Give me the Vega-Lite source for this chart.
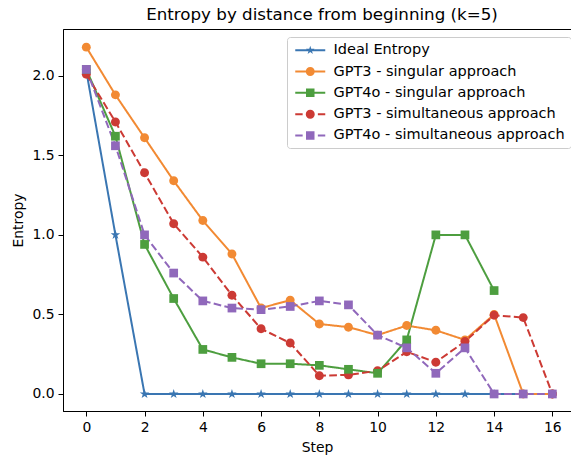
{
  "$schema": "https://vega.github.io/schema/vega-lite/v6.json",
  "width": 508,
  "height": 382,
  "autosize": {"type": "none"},
  "padding": {"left": 63, "top": 29, "right": 0, "bottom": 48},
  "background": "white",
  "title": {"text": "Entropy by distance from beginning (k=5)", "font": "DejaVu Sans", "fontSize": 16.7, "fontWeight": "normal", "color": "black", "offset": 5, "dx": 5},
  "config": {
    "view": {"stroke": "black", "strokeWidth": 1},
    "axis": {"labelFont": "DejaVu Sans", "labelFontSize": 13.9, "labelColor": "black", "titleFont": "DejaVu Sans", "titleFontSize": 13.9, "titleFontWeight": "normal", "titleColor": "black", "tickColor": "black", "tickSize": 5, "tickWidth": 1, "domainColor": "black", "domainWidth": 1, "labelPadding": 4, "grid": false}
  },
  "data": {"values": [
    {"series": "Ideal Entropy", "step": 0, "entropy": 2.03},
    {"series": "Ideal Entropy", "step": 1, "entropy": 1.0},
    {"series": "Ideal Entropy", "step": 2, "entropy": 0},
    {"series": "Ideal Entropy", "step": 3, "entropy": 0},
    {"series": "Ideal Entropy", "step": 4, "entropy": 0},
    {"series": "Ideal Entropy", "step": 5, "entropy": 0},
    {"series": "Ideal Entropy", "step": 6, "entropy": 0},
    {"series": "Ideal Entropy", "step": 7, "entropy": 0},
    {"series": "Ideal Entropy", "step": 8, "entropy": 0},
    {"series": "Ideal Entropy", "step": 9, "entropy": 0},
    {"series": "Ideal Entropy", "step": 10, "entropy": 0},
    {"series": "Ideal Entropy", "step": 11, "entropy": 0},
    {"series": "Ideal Entropy", "step": 12, "entropy": 0},
    {"series": "Ideal Entropy", "step": 13, "entropy": 0},
    {"series": "Ideal Entropy", "step": 14, "entropy": 0},
    {"series": "Ideal Entropy", "step": 15, "entropy": 0},
    {"series": "Ideal Entropy", "step": 16, "entropy": 0},
    {"series": "GPT3 - singular approach", "step": 0, "entropy": 2.18},
    {"series": "GPT3 - singular approach", "step": 1, "entropy": 1.88},
    {"series": "GPT3 - singular approach", "step": 2, "entropy": 1.61},
    {"series": "GPT3 - singular approach", "step": 3, "entropy": 1.34},
    {"series": "GPT3 - singular approach", "step": 4, "entropy": 1.09},
    {"series": "GPT3 - singular approach", "step": 5, "entropy": 0.88},
    {"series": "GPT3 - singular approach", "step": 6, "entropy": 0.54},
    {"series": "GPT3 - singular approach", "step": 7, "entropy": 0.59},
    {"series": "GPT3 - singular approach", "step": 8, "entropy": 0.44},
    {"series": "GPT3 - singular approach", "step": 9, "entropy": 0.42},
    {"series": "GPT3 - singular approach", "step": 10, "entropy": 0.37},
    {"series": "GPT3 - singular approach", "step": 11, "entropy": 0.43},
    {"series": "GPT3 - singular approach", "step": 12, "entropy": 0.40},
    {"series": "GPT3 - singular approach", "step": 13, "entropy": 0.34},
    {"series": "GPT3 - singular approach", "step": 14, "entropy": 0.50},
    {"series": "GPT3 - singular approach", "step": 15, "entropy": 0},
    {"series": "GPT3 - singular approach", "step": 16, "entropy": 0},
    {"series": "GPT4o - singular approach", "step": 0, "entropy": 2.04},
    {"series": "GPT4o - singular approach", "step": 1, "entropy": 1.62},
    {"series": "GPT4o - singular approach", "step": 2, "entropy": 0.94},
    {"series": "GPT4o - singular approach", "step": 3, "entropy": 0.60},
    {"series": "GPT4o - singular approach", "step": 4, "entropy": 0.28},
    {"series": "GPT4o - singular approach", "step": 5, "entropy": 0.23},
    {"series": "GPT4o - singular approach", "step": 6, "entropy": 0.19},
    {"series": "GPT4o - singular approach", "step": 7, "entropy": 0.19},
    {"series": "GPT4o - singular approach", "step": 8, "entropy": 0.18},
    {"series": "GPT4o - singular approach", "step": 9, "entropy": 0.155},
    {"series": "GPT4o - singular approach", "step": 10, "entropy": 0.13},
    {"series": "GPT4o - singular approach", "step": 11, "entropy": 0.34},
    {"series": "GPT4o - singular approach", "step": 12, "entropy": 1.0},
    {"series": "GPT4o - singular approach", "step": 13, "entropy": 1.0},
    {"series": "GPT4o - singular approach", "step": 14, "entropy": 0.65},
    {"series": "GPT3 - simultaneous approach", "step": 0, "entropy": 2.01},
    {"series": "GPT3 - simultaneous approach", "step": 1, "entropy": 1.71},
    {"series": "GPT3 - simultaneous approach", "step": 2, "entropy": 1.39},
    {"series": "GPT3 - simultaneous approach", "step": 3, "entropy": 1.07},
    {"series": "GPT3 - simultaneous approach", "step": 4, "entropy": 0.86},
    {"series": "GPT3 - simultaneous approach", "step": 5, "entropy": 0.62},
    {"series": "GPT3 - simultaneous approach", "step": 6, "entropy": 0.41},
    {"series": "GPT3 - simultaneous approach", "step": 7, "entropy": 0.32},
    {"series": "GPT3 - simultaneous approach", "step": 8, "entropy": 0.115},
    {"series": "GPT3 - simultaneous approach", "step": 9, "entropy": 0.12},
    {"series": "GPT3 - simultaneous approach", "step": 10, "entropy": 0.146},
    {"series": "GPT3 - simultaneous approach", "step": 11, "entropy": 0.265},
    {"series": "GPT3 - simultaneous approach", "step": 12, "entropy": 0.20},
    {"series": "GPT3 - simultaneous approach", "step": 13, "entropy": 0.33},
    {"series": "GPT3 - simultaneous approach", "step": 14, "entropy": 0.495},
    {"series": "GPT3 - simultaneous approach", "step": 15, "entropy": 0.48},
    {"series": "GPT3 - simultaneous approach", "step": 16, "entropy": 0},
    {"series": "GPT4o - simultaneous approach", "step": 0, "entropy": 2.04},
    {"series": "GPT4o - simultaneous approach", "step": 1, "entropy": 1.56},
    {"series": "GPT4o - simultaneous approach", "step": 2, "entropy": 1.0},
    {"series": "GPT4o - simultaneous approach", "step": 3, "entropy": 0.76},
    {"series": "GPT4o - simultaneous approach", "step": 4, "entropy": 0.585},
    {"series": "GPT4o - simultaneous approach", "step": 5, "entropy": 0.54},
    {"series": "GPT4o - simultaneous approach", "step": 6, "entropy": 0.53},
    {"series": "GPT4o - simultaneous approach", "step": 7, "entropy": 0.55},
    {"series": "GPT4o - simultaneous approach", "step": 8, "entropy": 0.585},
    {"series": "GPT4o - simultaneous approach", "step": 9, "entropy": 0.56},
    {"series": "GPT4o - simultaneous approach", "step": 10, "entropy": 0.37},
    {"series": "GPT4o - simultaneous approach", "step": 11, "entropy": 0.29},
    {"series": "GPT4o - simultaneous approach", "step": 12, "entropy": 0.13},
    {"series": "GPT4o - simultaneous approach", "step": 13, "entropy": 0.29},
    {"series": "GPT4o - simultaneous approach", "step": 14, "entropy": 0},
    {"series": "GPT4o - simultaneous approach", "step": 15, "entropy": 0},
    {"series": "GPT4o - simultaneous approach", "step": 16, "entropy": 0}
  ]},
  "encoding": {
    "x": {"field": "step", "type": "quantitative", "scale": {"domain": [-0.8, 16.64], "nice": false, "zero": false}, "axis": {"values": [0, 2, 4, 6, 8, 10, 12, 14, 16], "format": "d", "title": "Step", "titlePadding": 7}},
    "y": {"field": "entropy", "type": "quantitative", "scale": {"domain": [-0.107, 2.294], "nice": false, "zero": false}, "axis": {"values": [0, 0.5, 1, 1.5, 2], "format": ".1f", "title": "Entropy", "titlePadding": 6}},
    "color": {"field": "series", "type": "nominal", "scale": {"domain": ["Ideal Entropy", "GPT3 - singular approach", "GPT4o - singular approach", "GPT3 - simultaneous approach", "GPT4o - simultaneous approach"], "range": ["#3a76b2", "#f28a33", "#4d9e3f", "#cc3a34", "#9068bb"]},
      "legend": {
          "title": null, "orient": "none", "legendX": 224, "legendY": 8,
          "symbolSize": 100, "symbolStrokeWidth": 0, "symbolOffset": 10, "labelOffset": 16, "labelLimit": 400,
          "labelFont": "DejaVu Sans", "labelFontSize": 14.5, "labelColor": "black",
          "padding": 6, "rowPadding": 6.3, "strokeColor": "#cccccc", "fillColor": "rgba(255,255,255,0.8)", "cornerRadius": 3,
          "encode": {"symbols": {"update": {
            "fill": {"signal": "scale('color', datum.value)"},
            "fillOpacity": {"value": 1},
            "opacity": {"value": 1},
            "strokeWidth": {"value": 0},
            "shape": {"signal": "datum.value === 'Ideal Entropy' ? 'M-3,-0.2H3V0.2H-3Z M0,-0.9L0.2,-0.278L0.856,-0.278L0.327,0.106L0.529,0.728L0,0.344L-0.529,0.728L-0.327,0.106L-0.856,-0.278L-0.2,-0.278Z' : datum.value === 'GPT3 - singular approach' ? 'M-3,-0.2H3V0.2H-3Z M0.9,0A0.9,0.9 0 1,1 -0.9,0A0.9,0.9 0 1,1 0.9,0Z' : datum.value === 'GPT4o - singular approach' ? 'M-3,-0.2H3V0.2H-3Z M-0.85,-0.85H0.85V0.85H-0.85Z' : datum.value === 'GPT3 - simultaneous approach' ? 'M-3,-0.2H-1.52V0.2H-3Z M1.52,-0.2H3V0.2H1.52Z M0.9,0A0.9,0.9 0 1,1 -0.9,0A0.9,0.9 0 1,1 0.9,0Z' : 'M-3,-0.2H-1.52V0.2H-3Z M1.52,-0.2H3V0.2H1.52Z M-0.85,-0.85H0.85V0.85H-0.85Z'"}}}}
      }
    }
  },
  "layer": [
    {
      "mark": {"type": "line", "strokeWidth": 2},
      "encoding": {
        "strokeDash": {"field": "series", "type": "nominal", "scale": {"domain": ["Ideal Entropy", "GPT3 - singular approach", "GPT4o - singular approach", "GPT3 - simultaneous approach", "GPT4o - simultaneous approach"], "range": [[1, 0], [1, 0], [1, 0], [7.7, 3.3], [7.7, 3.3]]}, "legend": null}
      }
    },
    {
      "transform": [{"filter": "datum.series === 'Ideal Entropy'"}],
      "mark": {"type": "point", "filled": true, "opacity": 1, "size": 100, "strokeWidth": 0, "shape": "M0,-1L0.225,-0.309L0.951,-0.309L0.363,0.118L0.588,0.809L0,0.382L-0.588,0.809L-0.363,0.118L-0.951,-0.309L-0.225,-0.309Z"}
    },
    {
      "transform": [{"filter": "indexof(datum.series, 'GPT3') === 0"}],
      "mark": {"type": "point", "filled": true, "opacity": 1, "size": 80, "strokeWidth": 0, "shape": "M1,0A1,1 0 1,1 -1,0A1,1 0 1,1 1,0Z"}
    },
    {
      "transform": [{"filter": "indexof(datum.series, 'GPT4o') === 0"}],
      "mark": {"type": "point", "filled": true, "opacity": 1, "size": 76, "strokeWidth": 0, "shape": "M-1,-1H1V1H-1Z"}
    }
  ]
}
